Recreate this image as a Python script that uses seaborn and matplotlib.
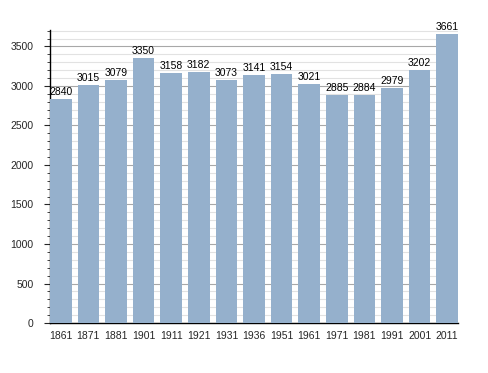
import pandas as pd
import matplotlib.pyplot as plt
import seaborn as sns
from matplotlib.ticker import MultipleLocator

# Population by census year
years = ['1861', '1871', '1881', '1901', '1911', '1921', '1931', '1936',
         '1951', '1961', '1971', '1981', '1991', '2001', '2011']
population = [2840, 3015, 3079, 3350, 3158, 3182, 3073, 3141,
              3154, 3021, 2885, 2884, 2979, 3202, 3661]

data = pd.DataFrame({'Year': years, 'Population': population})

sns.set_style('white')
plt.rcParams['font.family'] = ['Liberation Sans', 'DejaVu Sans']

fig = plt.figure(figsize=(4.88, 3.73), dpi=100)
ax = fig.add_axes([0.1025, 0.134, 0.836, 0.786])

ax = sns.barplot(data=data, x='Year', y='Population', color='#95b0cc',
                 saturation=1, width=0.78, linewidth=0, ax=ax, zorder=3)

# Value labels above bars
for i, v in enumerate(population):
    ax.text(i, v + 25, str(v), ha='center', va='bottom', fontsize=7.5, color='black', zorder=4)

ax.set_xlim(-0.39, len(years) - 0.61)
ax.set_ylim(0, 3710)
ax.yaxis.set_major_locator(MultipleLocator(500))
ax.yaxis.set_minor_locator(MultipleLocator(100))
ax.grid(which='major', axis='y', color='#a8a8a8', linewidth=0.8, zorder=1)
ax.grid(which='minor', axis='y', color='#e2e2e2', linewidth=0.8, zorder=0)

ax.set_xlabel('')
ax.set_ylabel('')
for side in ['top', 'right']:
    ax.spines[side].set_visible(False)
for side in ['left', 'bottom']:
    ax.spines[side].set_color('black')
    ax.spines[side].set_linewidth(1)

ax.tick_params(axis='y', which='major', left=True, length=4, width=0.8, labelsize=7.5, pad=8)
ax.tick_params(axis='y', which='minor', left=True, length=2, width=0.6)
ax.tick_params(axis='x', bottom=False, labelsize=7.5, pad=2)

fig.savefig('out.png', dpi=100)
